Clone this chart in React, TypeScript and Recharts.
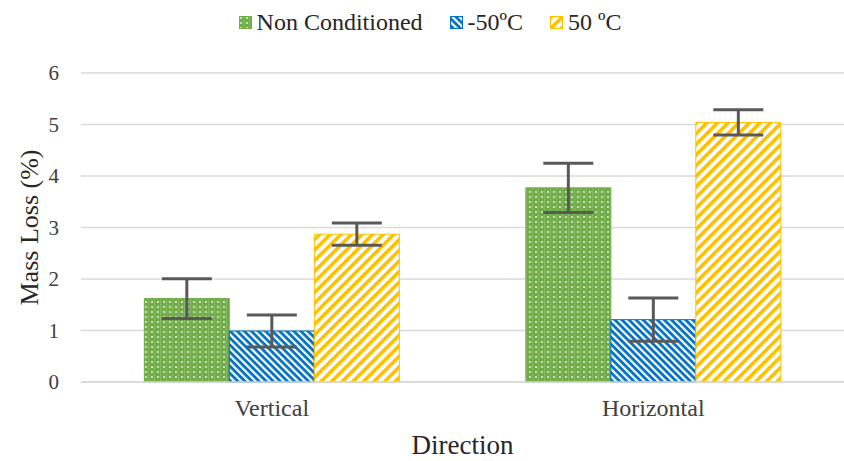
import React from 'react';
import { BarChart, Bar, XAxis, YAxis, CartesianGrid, ErrorBar, Legend } from 'recharts';

const categories = ['Vertical', 'Horizontal'];
const nonConditioned = [1.62, 3.77];
const nonConditionedErr = [0.385, 0.48];
const minus50 = [0.99, 1.21];
const minus50Err = [0.31, 0.42];
const plus50 = [2.87, 5.04];
const plus50Err = [0.215, 0.245];
const yTicks = [0, 1, 2, 3, 4, 5, 6];
const seriesNames = ['Non Conditioned', '-50ºC', '50 ºC'];

const GREEN = '#70AD47';
const BLUE = '#0070C0';
const YELLOW = '#FFC000';
const FONT = '"Liberation Serif", "Times New Roman", serif';

const data = categories.map((c, i) => ({
  name: c,
  nc: nonConditioned[i],
  ncErr: nonConditionedErr[i],
  m50: minus50[i],
  m50Err: minus50Err[i],
  p50: plus50[i],
  p50Err: plus50Err[i],
}));

const PatternDefs = ({ suffix }: { suffix: string }) => (
  <defs>
    <pattern id={`pg${suffix}`} patternUnits="userSpaceOnUse" width={6} height={5}>
      <rect x={0} y={0} width={6} height={5} fill={GREEN} />
      <rect x={1} y={1} width={2} height={2} fill="#ffffff" opacity={0.6} />
      <rect x={4} y={0} width={1} height={5} fill="#ffffff" opacity={0.15} />
    </pattern>
    <pattern id={`pb${suffix}`} patternUnits="userSpaceOnUse" width={5} height={5} patternTransform="rotate(-45)">
      <rect x={0} y={0} width={5} height={5} fill={BLUE} />
      <rect x={0} y={0} width={2.2} height={5} fill="#ffffff" />
    </pattern>
    <pattern id={`py${suffix}`} patternUnits="userSpaceOnUse" width={7.5} height={7.5} patternTransform="rotate(45)">
      <rect x={0} y={0} width={7.5} height={7.5} fill="#ffffff" />
      <rect x={0} y={0} width={3.6} height={7.5} fill={YELLOW} />
    </pattern>
  </defs>
);

const fills = ['pg', 'pb', 'py'];
const strokes = [GREEN, BLUE, YELLOW];

const renderLegend = () => (
  <div
    style={{
      display: 'flex',
      justifyContent: 'center',
      alignItems: 'flex-start',
      height: 73,
      paddingTop: 8,
      paddingLeft: 16,
      boxSizing: 'border-box',
      fontFamily: FONT,
      fontSize: 24,
      color: '#262626',
      lineHeight: '28px',
    }}
  >
    {seriesNames.map((n, i) => (
      <div key={n} style={{ display: 'flex', alignItems: 'center', marginRight: i < 2 ? 27 : 0 }}>
        <svg width={13} height={13} style={{ marginRight: 5 }}>
          <PatternDefs suffix={`L${i}`} />
          <rect x={0.5} y={0.5} width={12} height={12} fill={`url(#${fills[i]}L${i})`} stroke={strokes[i]} />
        </svg>
        <span>{n}</span>
      </div>
    ))}
  </div>
);

const YLabel = (props: any) => {
  const vb = props.viewBox || {};
  const cy = vb.y + vb.height / 2;
  const cx = 29;
  return (
    <text
      x={cx}
      y={cy}
      transform={`rotate(-90, ${cx}, ${cy})`}
      textAnchor="middle"
      dominantBaseline="central"
      fontFamily={FONT}
      fontSize={26}
      fill="#262626"
    >
      Mass Loss (%)
    </text>
  );
};

export default function App() {
  return (
    <div style={{ position: 'absolute', left: 0, top: 0, background: '#fff' }}>
      <BarChart
        width={844}
        height={461}
        data={data}
        margin={{ top: 0, right: 0, bottom: 0, left: 0 }}
        barCategoryGap="16.6%"
        barGap={0}
      >
        <PatternDefs suffix="" />
        <Legend verticalAlign="top" content={renderLegend} wrapperStyle={{ top: 0, left: 0, width: 844 }} />
        <CartesianGrid vertical={false} stroke="#d9d9d9" strokeWidth={1.3} />
        <XAxis
          dataKey="name"
          height={79}
          axisLine={{ stroke: '#d9d9d9', strokeWidth: 1.5 }}
          tickLine={false}
          tickMargin={11}
          tick={{ fontFamily: FONT, fontSize: 24, fill: '#404040' }}
          label={{ value: 'Direction', position: 'insideBottom', offset: 7, fontFamily: FONT, fontSize: 27, fill: '#262626' }}
        />
        <YAxis
          width={81}
          domain={[0, 6]}
          ticks={yTicks}
          axisLine={false}
          tickLine={false}
          tickMargin={16}
          tick={{ fontFamily: FONT, fontSize: 21, fill: '#404040' }}
          label={<YLabel />}
        />
        <Bar dataKey="nc" name={seriesNames[0]} fill="url(#pg)" stroke={GREEN} strokeWidth={1} isAnimationActive={false}>
          <ErrorBar dataKey="ncErr" width={25} stroke="#595959" strokeWidth={3} isAnimationActive={false} />
        </Bar>
        <Bar dataKey="m50" name={seriesNames[1]} fill="url(#pb)" stroke={BLUE} strokeWidth={1} isAnimationActive={false}>
          <ErrorBar dataKey="m50Err" width={25} stroke="#595959" strokeWidth={3} isAnimationActive={false} />
        </Bar>
        <Bar dataKey="p50" name={seriesNames[2]} fill="url(#py)" stroke={YELLOW} strokeWidth={1} isAnimationActive={false}>
          <ErrorBar dataKey="p50Err" width={25} stroke="#595959" strokeWidth={3} isAnimationActive={false} />
        </Bar>
      </BarChart>
    </div>
  );
}
